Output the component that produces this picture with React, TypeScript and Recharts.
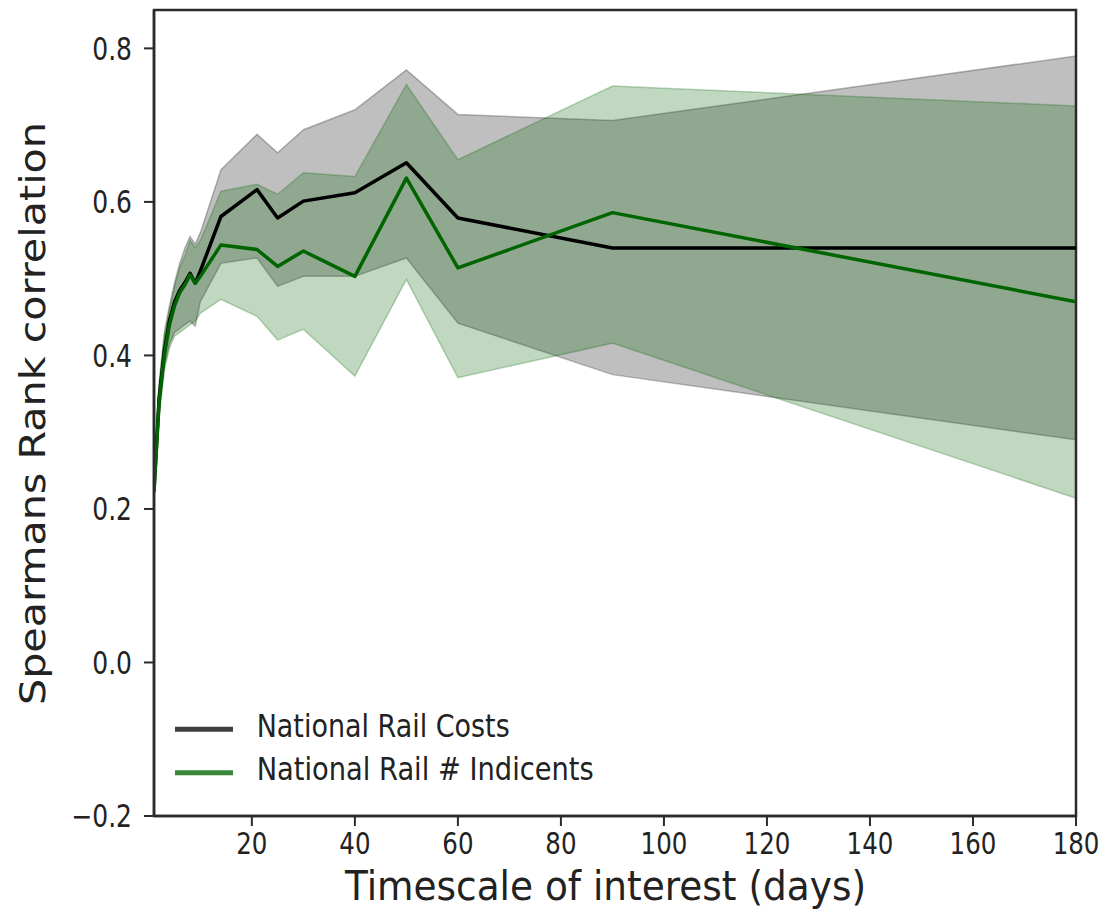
import React from 'react'
import {
  ComposedChart,
  Area,
  Line,
  XAxis,
  YAxis,
  Legend,
  ReferenceArea,
} from 'recharts'

// timescales (days) and spearman rank correlation
const days = [1, 2, 3, 4, 5, 6, 7, 8, 9, 10, 14, 21, 25, 30, 40, 50, 60, 90, 180]

const costsMean = [0.225, 0.345, 0.405, 0.445, 0.47, 0.485, 0.495, 0.507, 0.494, 0.51, 0.581, 0.616, 0.579, 0.601, 0.612, 0.651, 0.579, 0.54, 0.54]
const costsHigh = [0.235, 0.365, 0.43, 0.465, 0.495, 0.52, 0.54, 0.555, 0.545, 0.56, 0.642, 0.688, 0.664, 0.694, 0.72, 0.772, 0.714, 0.706, 0.79]
const costsLow = [0.215, 0.325, 0.385, 0.415, 0.43, 0.435, 0.44, 0.445, 0.438, 0.47, 0.52, 0.527, 0.49, 0.503, 0.503, 0.527, 0.442, 0.375, 0.29]

const incidentsMean = [0.222, 0.34, 0.4, 0.44, 0.465, 0.482, 0.492, 0.505, 0.494, 0.503, 0.544, 0.538, 0.516, 0.536, 0.503, 0.631, 0.514, 0.586, 0.47]
const incidentsHigh = [0.232, 0.36, 0.425, 0.46, 0.49, 0.515, 0.53, 0.55, 0.54, 0.55, 0.614, 0.623, 0.61, 0.638, 0.633, 0.753, 0.655, 0.751, 0.725]
const incidentsLow = [0.212, 0.32, 0.38, 0.41, 0.425, 0.43, 0.435, 0.44, 0.445, 0.455, 0.473, 0.451, 0.42, 0.434, 0.373, 0.499, 0.371, 0.416, 0.214]

const xTicks = [20, 40, 60, 80, 100, 120, 140, 160, 180]
const yTicks = [-0.2, 0, 0.2, 0.4, 0.6, 0.8]

const data = days.map((d, i) => ({
  day: d,
  costs: costsMean[i],
  costsBand: [costsLow[i], costsHigh[i]],
  incidents: incidentsMean[i],
  incidentsBand: [incidentsLow[i], incidentsHigh[i]],
}))

const FONT = '"DejaVu Sans", Verdana, sans-serif'
const INK = '#222'
const SPINE = '#2b2b2b'

const legendOrder = ['costs', 'incidents']
const legendColors: Record<string, string> = {
  costs: '#3f3f3f',
  incidents: '#3a873a',
}
const legendWidths: Record<string, number> = {
  costs: 253,
  incidents: 337,
}

function fmt(v: number) {
  const s = Math.abs(v).toFixed(1)
  return v < 0 ? '\u2212' + s : s
}

function XTick(props: any) {
  const { x, payload } = props
  return (
    <text
      transform={`translate(${x}, 854) scale(1, 1.2)`}
      textAnchor="middle"
      fontFamily={FONT}
      fontSize={24.5}
      fill={INK}
    >
      {payload.value}
    </text>
  )
}

function YTick(props: any) {
  const { y, payload } = props
  return (
    <text
      transform={`translate(132, ${y}) scale(1, 1.25)`}
      y={9.1}
      textAnchor="end"
      fontFamily={FONT}
      fontSize={25}
      fill={INK}
    >
      {fmt(payload.value)}
    </text>
  )
}

function YTitle() {
  return (
    <text
      transform="translate(45, 413.5) rotate(-90)"
      textAnchor="middle"
      fontFamily={FONT}
      fontSize={36}
      textLength={583}
      lengthAdjust="spacingAndGlyphs"
      fill={INK}
    >
      Spearmans Rank correlation
    </text>
  )
}

function XTitle() {
  return (
    <text
      x={345}
      y={899.5}
      fontFamily={FONT}
      fontSize={41}
      textLength={521}
      lengthAdjust="spacingAndGlyphs"
      fill={INK}
    >
      Timescale of interest (days)
    </text>
  )
}

function LegendBox(props: any) {
  const items = (props.payload || [])
    .filter((p: any) => p.type !== 'none')
    .sort(
      (a: any, b: any) =>
        legendOrder.indexOf(String(a.dataKey)) - legendOrder.indexOf(String(b.dataKey))
    )
  return (
    <svg width={560} height={95}>
      {items.map((item: any, i: number) => {
        const key = String(item.dataKey)
        const cy = 29.3 + i * 43.4
        return (
          <g key={key}>
            <line x1={15} x2={73} y1={cy} y2={cy} stroke={legendColors[key]} strokeWidth={5} />
            <text
              x={96.7}
              y={cy + 7.6}
              fontFamily={FONT}
              fontSize={32}
              textLength={legendWidths[key]}
              lengthAdjust="spacingAndGlyphs"
              fill={INK}
            >
              {item.value}
            </text>
          </g>
        )
      })}
    </svg>
  )
}

export default function App() {
  return (
    <div style={{ position: 'absolute', left: 0, top: 0, background: '#fff' }}>
      <ComposedChart
        width={1102}
        height={915}
        data={data}
        margin={{ top: 10, right: 26, bottom: 0, left: 0 }}
      >
        <XAxis
          dataKey="day"
          type="number"
          domain={[1, 180]}
          ticks={xTicks}
          allowDataOverflow
          height={99}
          tick={<XTick />}
          tickSize={10}
          axisLine={{ stroke: SPINE, strokeWidth: 2.5 }}
          tickLine={{ stroke: SPINE, strokeWidth: 2 }}
          label={<XTitle />}
        />
        <YAxis
          type="number"
          domain={[-0.2, 0.85]}
          ticks={yTicks}
          allowDataOverflow
          width={154}
          tick={<YTick />}
          tickSize={10}
          axisLine={{ stroke: SPINE, strokeWidth: 2.5 }}
          tickLine={{ stroke: SPINE, strokeWidth: 2 }}
          label={<YTitle />}
        />
        <Area
          dataKey="costsBand"
          type="linear"
          fill="#000"
          fillOpacity={0.25}
          stroke="#000"
          strokeOpacity={0.25}
          strokeWidth={1.5}
          legendType="none"
          isAnimationActive={false}
          activeDot={false}
        />
        <Area
          dataKey="incidentsBand"
          type="linear"
          fill="#006400"
          fillOpacity={0.25}
          stroke="#006400"
          strokeOpacity={0.25}
          strokeWidth={1.5}
          legendType="none"
          isAnimationActive={false}
          activeDot={false}
        />
        <Line
          dataKey="costs"
          name="National Rail Costs"
          type="linear"
          stroke="#000"
          strokeWidth={3.5}
          strokeLinejoin="round"
          dot={false}
          isAnimationActive={false}
        />
        <Line
          dataKey="incidents"
          name="National Rail # Indicents"
          type="linear"
          stroke="#006400"
          strokeWidth={3.5}
          strokeLinejoin="round"
          dot={false}
          isAnimationActive={false}
        />
        <ReferenceArea
          x1={1}
          x2={180}
          y1={-0.2}
          y2={0.85}
          fill="none"
          stroke={SPINE}
          strokeWidth={2.5}
        />
        <Legend
          layout="vertical"
          align="center"
          verticalAlign="middle"
          content={<LegendBox />}
          wrapperStyle={{ left: 160, top: 700, width: 560, height: 95 }}
        />
      </ComposedChart>
    </div>
  )
}
